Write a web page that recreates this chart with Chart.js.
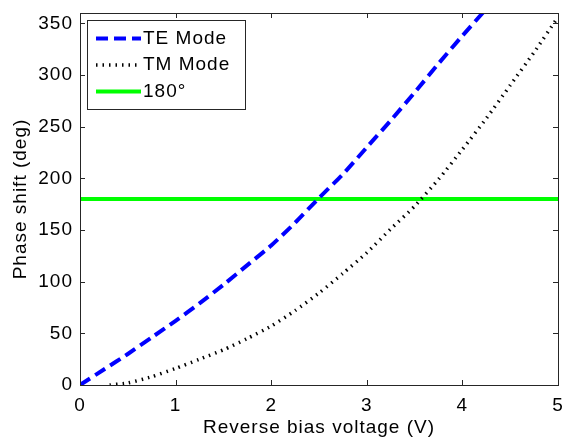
<!DOCTYPE html>
<html lang="en">
  <head>
    <meta charset="UTF-8" />
    <title>Phase shift vs reverse bias</title>
    <script src="https://cdn.jsdelivr.net/npm/chart.js"></script>
    <style>
      html, body { margin: 0; padding: 0; background: #fff; }
      #wrap { width: 563px; height: 441px; }
    </style>
  </head>
  <body>
    <div id="wrap"><canvas id="phaseChart"></canvas></div>

    <script>
      // TE mode phase shift (deg) vs reverse bias (V)
      const teVoltage = [0, 0.25, 0.5, 0.75, 1.0, 1.25, 1.5, 1.75, 2.0, 2.25, 2.5, 2.75, 3.0, 3.25, 3.5, 3.75, 4.0, 4.25];
      const tePhase = [0, 15, 30, 46, 62, 79, 97, 116, 135, 157, 181, 204, 230, 256, 283, 311, 338, 364];

      // TM mode, starts a little above 0 V
      const tmVoltage = [0.31, 0.5, 0.75, 1.0, 1.25, 1.5, 1.75, 2.0, 2.25, 2.5, 2.75, 3.0, 3.25, 3.5, 3.75, 4.0, 4.25, 4.5, 4.75, 5.0];
      const tmPhase = [0, 2, 8, 16, 25, 34, 45, 57, 72, 89, 108, 128, 151, 173, 199, 228, 258, 290, 322, 356];

      // 180 degree reference
      const refVoltage = [0, 5];
      const refPhase = [180, 180];

      const xTicks = [0, 1, 2, 3, 4, 5];
      const yTicks = [0, 50, 100, 150, 200, 250, 300, 350];

      const FONT = { family: "'Liberation Sans', Arial, sans-serif", size: 19 };

      function toPoints(xs, ys) {
        return xs.map((x, i) => ({ x: x, y: ys[i] }));
      }

      // wider text spacing; canvas state gets reset on resize so set it each pass
      const spacing = {
        id: "spacing",
        beforeUpdate(chart) { chart.ctx.letterSpacing = "1px"; },
        beforeDraw(chart) { chart.ctx.letterSpacing = "1px"; },
      };

      // box round the plot with inward ticks on all four sides
      const axesBox = {
        id: "axesBox",
        afterDatasetsDraw(chart) {
          const { ctx, chartArea: a, scales } = chart;
          const len = 5;
          ctx.save();
          ctx.strokeStyle = "#262626";
          ctx.lineWidth = 1;
          ctx.beginPath();
          xTicks.forEach((v) => {
            const px = Math.round(scales.x.getPixelForValue(v)) + 0.5;
            ctx.moveTo(px, a.bottom); ctx.lineTo(px, a.bottom - len);
            ctx.moveTo(px, a.top); ctx.lineTo(px, a.top + len);
          });
          yTicks.forEach((v) => {
            const py = Math.round(scales.y.getPixelForValue(v)) + 0.5;
            ctx.moveTo(a.left, py); ctx.lineTo(a.left + len, py);
            ctx.moveTo(a.right, py); ctx.lineTo(a.right - len, py);
          });
          ctx.stroke();
          ctx.strokeRect(Math.round(a.left) + 0.5, Math.round(a.top) + 0.5, Math.round(a.right - a.left), Math.round(a.bottom - a.top));
          ctx.restore();
        },
      };

      // legend drawn in the upper left corner of the plot
      const boxLegend = {
        id: "boxLegend",
        afterDraw(chart) {
          const { ctx, chartArea: a } = chart;
          const x0 = Math.round(a.left) + 7.5;
          const y0 = Math.round(a.top) + 7.5;
          ctx.save();
          ctx.fillStyle = "#fff";
          ctx.fillRect(x0, y0, 158, 89);
          ctx.strokeStyle = "#262626";
          ctx.lineWidth = 1;
          ctx.strokeRect(x0, y0, 158, 89);
          ctx.font = FONT.size + "px " + FONT.family;
          ctx.letterSpacing = "1px";
          ctx.textBaseline = "middle";
          chart.data.datasets.forEach((ds, i) => {
            const y = a.top + 25.5 + i * 26.5;
            ctx.beginPath();
            ctx.strokeStyle = ds.borderColor;
            ctx.lineWidth = ds.borderWidth;
            ctx.setLineDash(ds.borderDash || []);
            ctx.moveTo(a.left + 16, y);
            ctx.lineTo(a.left + 61, y);
            ctx.stroke();
            ctx.setLineDash([]);
            ctx.fillStyle = "#000";
            ctx.fillText(ds.label, a.left + 63, y);
          });
          ctx.restore();
        },
      };

      const ctx = document.getElementById("phaseChart").getContext("2d");
      new Chart(ctx, {
        type: "line",
        data: {
          datasets: [
            {
              label: "TE Mode",
              data: toPoints(teVoltage, tePhase),
              borderColor: "#0000ff",
              borderWidth: 4,
              borderDash: [12, 6],
            },
            {
              label: "TM Mode",
              data: toPoints(tmVoltage, tmPhase),
              borderColor: "#000000",
              borderWidth: 3.5,
              borderDash: [1.5, 5],
            },
            {
              label: "180°",
              data: toPoints(refVoltage, refPhase),
              borderColor: "#00ff00",
              borderWidth: 4,
            },
          ],
        },
        options: {
          responsive: true,
          maintainAspectRatio: false,
          animation: false,
          layout: { padding: { top: 13, right: 5, left: 0, bottom: 0 } },
          elements: {
            point: { radius: 0, hoverRadius: 0 },
            line: { tension: 0.2, fill: false },
          },
          datasets: { line: { clip: 0 } },
          plugins: {
            legend: { display: false },
            tooltip: { enabled: false },
          },
          scales: {
            x: {
              type: "linear",
              min: 0,
              max: 5,
              afterFit(scale) {
                scale.height = 56;
                scale.paddingLeft = 0;
                scale.paddingRight = 0;
              },
              afterBuildTicks(scale) { scale.ticks = xTicks.map((v) => ({ value: v })); },
              grid: { display: false, drawTicks: false },
              border: { display: false },
              ticks: { color: "#000", font: FONT, padding: 9, maxRotation: 0 },
              title: {
                display: true,
                text: "Reverse bias voltage (V)",
                color: "#000",
                font: FONT,
                padding: { top: 0, bottom: 2 },
              },
            },
            y: {
              min: 0,
              max: 360,
              afterFit(scale) {
                scale.width = 80;
                scale.paddingTop = 0;
                scale.paddingBottom = 0;
              },
              afterBuildTicks(scale) { scale.ticks = yTicks.map((v) => ({ value: v })); },
              grid: { display: false, drawTicks: false },
              border: { display: false },
              ticks: { color: "#000", font: FONT, padding: 7 },
              title: {
                display: true,
                text: "Phase shift (deg)",
                color: "#000",
                font: FONT,
                padding: { top: 9, bottom: 0 },
              },
            },
          },
        },
        plugins: [spacing, axesBox, boxLegend],
      });
    </script>
  </body>
</html>
